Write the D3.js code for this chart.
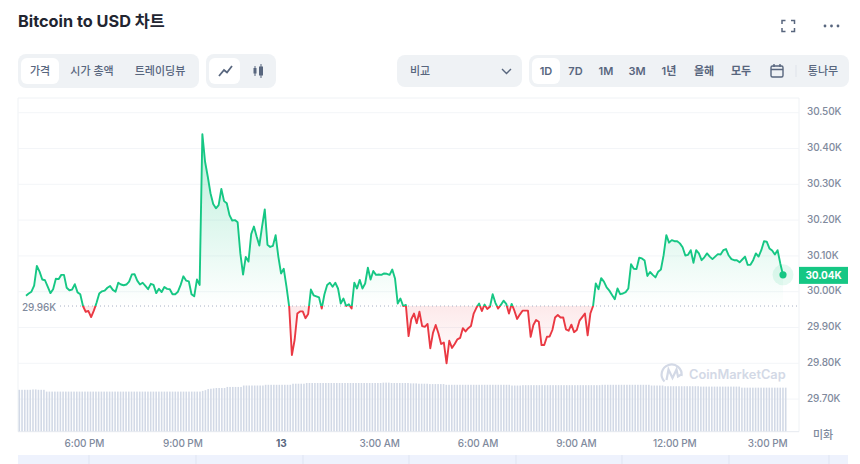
<!DOCTYPE html>
<html><head><meta charset="utf-8">
<script src="https://cdn.jsdelivr.net/npm/d3@7/dist/d3.min.js"></script>
<style>
html,body{margin:0;padding:0;background:#fff;overflow:hidden}
svg{display:block;font-family:Inter,"Noto Sans CJK KR",sans-serif}
</style></head><body><svg id="c" width="860" height="464"></svg>
<script>
const title = "Bitcoin to USD 차트";
const metricTabs = ["가격","시가 총액","트레이딩뷰"];
const rangeTabs = ["1D","7D","1M","3M","1년","올해","모두"];
const yTicks = [29700,29800,29900,30000,30100,30200,30300,30400,30500];
const baselinePrice = 29960;
const lastPrice = 30040;
const xTickTimes = [[12,18],[12,21],[13,0],[13,3],[13,6],[13,9],[13,12],[13,15]];
const prices = [
29989,29995,30000,30017,30072,30056,30034,30032,30014,29996,30007,30036,30035,30047,30047,30011,30004,30006,30021,29998,
29993,29960,29944,29946,29929,29947,29969,29995,30001,30003,30011,30016,30005,30000,30025,30020,30018,30020,30028,30048,
30049,30031,30020,30025,30016,30007,30022,30019,29996,30008,29999,30013,30008,30007,29993,29993,30000,30019,30043,30031,
30029,29993,29987,30034,30019,30440,30363,30321,30275,30245,30233,30242,30287,30253,30247,30214,30199,30200,30194,30107,
30048,30097,30084,30161,30182,30154,30129,30182,30230,30131,30125,30128,30158,30098,30051,30064,30014,29958,29823,
29865,29939,29945,29945,29926,29938,30006,29990,29987,29984,29953,29993,30019,30025,30014,30025,30009,29967,29981,29960,
29965,29953,30025,30009,30033,30009,30023,30067,30034,30058,30047,30048,30047,30051,30050,30047,30062,30037,29967,29981,
29960,29963,29876,29923,29939,29912,29944,29904,29902,29910,29842,29885,29907,29884,29854,29858,29800,29863,29843,29854,
29867,29871,29898,29889,29898,29904,29939,29955,29967,29946,29964,29952,29958,29993,29969,29953,29963,29975,29966,29939,
29966,29947,29924,29936,29947,29947,29947,29874,29907,29921,29916,29851,29851,29874,29875,29893,29928,29935,29928,
29928,29895,29891,29908,29887,29893,29919,29929,29939,29878,29939,29960,30023,30007,30038,30028,30012,30003,29991,29979,
30009,29993,29995,29999,30009,30077,30064,30063,30095,30093,30087,30044,30055,30047,30040,30056,30062,30102,30158,30137,
30144,30141,30141,30135,30124,30101,30103,30116,30081,30116,30107,30088,30096,30107,30098,30091,30098,30105,30104,30116,
30119,30101,30091,30088,30088,30082,30090,30098,30075,30075,30088,30107,30098,30116,30141,30140,30121,30115,30104,30116,
30079,30047];
const volumes = [
11.7,11.7,11.7,11.7,11.7,11.8,11.8,11.7,11.7,11.7,
11.2,11.2,11.2,11.2,11.2,11.2,11.2,11.2,11.2,11.2,11.2,11.2,11.2,11.2,11.2,11.2,11.2,11.2,11.2,11.2,
11.2,11.2,11.2,11.2,11.2,11.2,11.2,11.2,11.2,11.2,11.2,11.2,11.2,11.2,11.2,11.2,11.2,11.2,11.2,11.2,
11.2,11.2,11.2,11.2,11.2,11.2,11.2,11.2,11.2,11.2,11.2,11.2,11.2,11.2,11.2,11.2,11.2,
11.4,11.6,11.9,12.0,12.1,
12.2,12.2,12.2,12.2,
12.5,12.5,12.5,12.5,12.5,12.5,
12.9,12.9,12.9,12.9,12.9,12.9,12.9,12.9,
13.1,13.1,13.1,13.1,13.1,13.1,13.1,13.1,13.1,13.1,
13.4,13.4,13.4,13.4,13.4,
13.6,13.6,13.6,13.6,13.6,13.6,13.6,13.6,13.6,13.6,13.6,13.6,13.6,13.6,13.6,13.6,13.6,13.6,13.6,13.6,
13.6,13.6,13.6,13.6,13.6,13.6,13.6,13.6,13.7,13.7,13.7,13.6,13.6,13.6,13.6,13.6,13.6,13.6,
13.5,13.5,13.5,13.4,13.4,13.4,13.4,
13.3,13.3,13.3,13.3,13.3,13.3,
13.1,13.1,13.1,13.1,13.1,13.1,13.1,13.1,13.1,13.1,13.1,13.1,13.1,13.1,13.1,13.1,13.1,13.1,13.1,13.1,13.1,13.1,13.1,13.1,
12.9,12.9,12.9,12.9,
13.0,13.0,13.0,13.0,13.0,13.0,13.0,13.0,13.0,13.0,13.0,13.0,13.0,13.0,13.0,13.0,13.0,13.0,13.0,13.0,13.0,13.0,13.0,13.0,13.0,13.0,13.0,13.0,13.0,
13.1,13.1,13.1,13.1,13.1,13.1,13.1,13.1,13.1,13.1,13.1,13.1,13.1,13.1,13.1,13.1,13.1,13.1,
12.9,12.9,12.9,12.9,12.9,
12.7,12.7,12.7,12.7,12.7,12.7,12.7,12.7,12.7,12.7,12.7,12.7,12.7,
12.6,12.6,12.6,12.6,12.6,12.6,12.6,12.6,12.6,12.6,12.6,12.6,12.6,12.6,12.6,
12.3,12.3,12.3,12.3,12.3,12.3,12.3,12.3,12.3,12.3,12.3,12.3,12.3,12.3,12.3,12.3,12.3];

const GREEN="#16c784", RED="#ea3943", GREY="#808a9d", TXT="#58667e", PANEL="#eff2f5", GRID="#f3f5f8";
const svg = d3.select("#c");
const defs = svg.append("defs");

const start = new Date(2023,6,12,16,14), end = new Date(2023,6,13,15,19);
const x = d3.scaleTime().domain([start,end]).range([26,783]);
const y = d3.scaleLinear().domain([29700,30500]).range([399.1,112.7]);
const times = prices.map((_,i)=>new Date(+start + i*(end-start)/(prices.length-1)));
const vx = d3.scaleBand().domain(volumes.map((_,i)=>i)).range([18.5,786.5]).paddingInner(0.42);
const vy = d3.scaleLinear().domain([0,13.6]).range([431.7,383]);

/* header */
svg.append("text").attr("x",18).attr("y",27).attr("font-size",16.3).attr("font-weight",700).attr("fill","#222531").text(title);
const hdr = svg.append("g").attr("fill","none").attr("stroke","#58667e").attr("stroke-width",1.5);
hdr.append("path").attr("d","M782 24V20.5H785.5M791 20.5H794.5V24M794.5 28V31.5H791M785.5 31.5H782V28");
[825,831.5,838].forEach(cx=>svg.append("circle").attr("cx",cx).attr("cy",26).attr("r",1.4).attr("fill","#58667e"));

function panel(x0,x1,y0,y1,fill,r){svg.append("rect").attr("x",x0).attr("y",y0).attr("width",x1-x0).attr("height",y1-y0).attr("rx",r).attr("fill",fill);}
function label(t,cx,opts={}){svg.append("text").attr("x",cx).attr("y",opts.y||75).attr("text-anchor",opts.anchor||"middle").attr("font-size",opts.size||11).attr("font-weight",opts.weight||500).attr("fill",opts.fill||TXT).text(t);}

panel(18,199,54,88,PANEL,8); panel(21,59,58,84,"#fff",6);
[40,92,160].forEach((cx,i)=>label(metricTabs[i],cx));
panel(206,276,54,88,PANEL,8); panel(209,240,58,84,"#fff",6);
svg.append("path").attr("d","M219 76L224 70L227 72.5L232 66").attr("fill","none").attr("stroke",TXT).attr("stroke-width",1.8);
svg.append("path").attr("d","M255 66V76M261 64V78").attr("stroke",TXT).attr("stroke-width",1);
svg.append("rect").attr("x",253.5).attr("y",68).attr("width",3).attr("height",5.5).attr("fill",TXT);
svg.append("rect").attr("x",259).attr("y",66.5).attr("width",4).attr("height",9).attr("fill",TXT);
panel(397,522,55,87,PANEL,8);
label("비교",410,{anchor:"start"});
svg.append("path").attr("d","M502 69L506.5 73.5L511 69").attr("fill","none").attr("stroke",TXT).attr("stroke-width",1.4);
panel(529,849,55,87,PANEL,8); panel(532,560,58,84,"#fff",6);
[546,575.5,606,637,669,704,741].forEach((cx,i)=>label(rangeTabs[i],cx,{weight:600}));
svg.append("rect").attr("x",771).attr("y",66).attr("width",12).attr("height",11).attr("rx",1.5).attr("fill","none").attr("stroke",TXT).attr("stroke-width",1.4);
svg.append("path").attr("d","M771 69.5H783M774 64V67M780 64V67").attr("stroke",TXT).attr("stroke-width",1.4);
svg.append("line").attr("x1",796).attr("x2",796).attr("y1",65).attr("y2",77).attr("stroke","#dfe3ea");
label("통나무",823);

/* frame and grid */
const plot = svg.append("g");
plot.append("path").attr("d","M18 431.7V98H799V431.7").attr("fill","none").attr("stroke","#eff2f5");
plot.append("g").selectAll("line").data(yTicks).join("line")
  .attr("x1",18).attr("x2",799).attr("y1",d=>y(d)).attr("y2",d=>y(d)).attr("stroke",GRID);

/* volume */
plot.append("g").selectAll("rect").data(volumes).join("rect")
  .attr("x",(d,i)=>vx(i)).attr("width",vx.bandwidth()).attr("y",d=>vy(d)).attr("height",d=>vy(0)-vy(d)).attr("fill","#d2d9e6");
plot.append("line").attr("x1",18).attr("x2",799).attr("y1",431.7).attr("y2",431.7).attr("stroke","#e6e9ef");

/* price */
const base = y(baselinePrice);
const gg = defs.append("linearGradient").attr("id","gu").attr("gradientUnits","userSpaceOnUse").attr("x1",0).attr("x2",0).attr("y1",y(30440)).attr("y2",base);
gg.append("stop").attr("offset",0).attr("stop-color",GREEN).attr("stop-opacity",0.3);
gg.append("stop").attr("offset",1).attr("stop-color",GREEN).attr("stop-opacity",0.0);
const gr = defs.append("linearGradient").attr("id","gd").attr("gradientUnits","userSpaceOnUse").attr("x1",0).attr("x2",0).attr("y1",base).attr("y2",y(29800));
gr.append("stop").attr("offset",0).attr("stop-color",RED).attr("stop-opacity",0.11);
gr.append("stop").attr("offset",1).attr("stop-color",RED).attr("stop-opacity",0);
defs.append("clipPath").attr("id","up").append("rect").attr("x",0).attr("y",0).attr("width",860).attr("height",base);
defs.append("clipPath").attr("id","dn").append("rect").attr("x",0).attr("y",base).attr("width",860).attr("height",464-base);
const line = d3.line().x((d,i)=>x(times[i])).y(d=>y(d));
const area = d3.area().x((d,i)=>x(times[i])).y0(base).y1(d=>y(d));
plot.append("path").datum(prices).attr("d",area).attr("fill","url(#gu)").attr("clip-path","url(#up)");
plot.append("path").datum(prices).attr("d",area).attr("fill","url(#gd)").attr("clip-path","url(#dn)");
plot.append("line").attr("x1",60).attr("x2",797).attr("y1",base).attr("y2",base).attr("stroke","#a6b0c3").attr("stroke-dasharray","1 3");
plot.append("path").datum(prices).attr("d",line).attr("fill","none").attr("stroke",GREEN).attr("stroke-width",1.9).attr("stroke-linejoin","round").attr("clip-path","url(#up)");
plot.append("path").datum(prices).attr("d",line).attr("fill","none").attr("stroke",RED).attr("stroke-width",1.9).attr("stroke-linejoin","round").attr("clip-path","url(#dn)");
const lastX=x(times[times.length-1]), lastY=y(prices[prices.length-1]);
plot.append("circle").attr("cx",lastX).attr("cy",lastY).attr("r",10.5).attr("fill",GREEN).attr("opacity",0.11);
plot.append("circle").attr("cx",lastX).attr("cy",lastY).attr("r",3.6).attr("fill",GREEN);
svg.append("text").attr("x",22).attr("y",311).attr("font-size",10).attr("letter-spacing",-0.1).attr("font-weight",500).attr("fill",GREY).text(d3.format(".2f")(baselinePrice/1000)+"K");

/* watermark */
const wm = svg.append("g").attr("fill","none").attr("stroke","#d3d9e6").attr("stroke-width",2.2);
wm.append("path").attr("d","M664.5 381.5A10 10 0 1 1 681.5 376");
wm.append("path").attr("d","M666.5 380L668.5 369.5L672.5 378L676.5 369.5L678 376.5L682 374");
svg.append("text").attr("x",689).attr("y",378.5).attr("font-size",12.8).attr("font-weight",600).attr("fill","#d3d9e6").text("CoinMarketCap");

/* axes */
const yAxis = d3.axisRight(y).tickValues(yTicks).tickSize(0).tickPadding(8).tickFormat(d=>d3.format(".2f")(d/1000)+"K");
const gy = svg.append("g").attr("transform","translate(799,0)").call(yAxis);
gy.select(".domain").remove();
gy.selectAll("text").attr("fill",GREY).attr("font-size",10).attr("letter-spacing",-0.1).attr("font-weight",500).attr("font-family",'Inter,"Noto Sans CJK KR",sans-serif').attr("dy","0.22em");
const xt = xTickTimes.map(([d,h])=>new Date(2023,6,d,h));
const xAxis = d3.axisBottom(x).tickValues(xt).tickSize(0).tickPadding(8)
  .tickFormat(d=>d.getHours()===0?String(d.getDate()):d3.timeFormat("%-I:%M %p")(d));
const gx = svg.append("g").attr("transform","translate(0,431.7)").call(xAxis);
gx.select(".domain").remove();
gx.selectAll("text").attr("fill",GREY).attr("font-size",10).attr("letter-spacing",-0.1).attr("font-weight",500).attr("font-family",'Inter,"Noto Sans CJK KR",sans-serif')
  .filter(d=>d.getHours()===0).attr("font-weight",700).attr("fill",TXT);
gx.selectAll("text").filter((d,i)=>i===xt.length-1).attr("dx",-5.5);
svg.append("text").attr("x",813).attr("y",439).attr("font-size",11).attr("fill",GREY).attr("font-weight",500).text("미화");

/* last price tag */
svg.append("rect").attr("x",799).attr("y",lastY-8).attr("width",49).attr("height",17).attr("fill",GREEN);
svg.append("text").attr("x",823.5).attr("y",lastY+4.2).attr("text-anchor","middle").attr("font-size",10).attr("letter-spacing",-0.1).attr("font-weight",700).attr("fill","#fff").text(d3.format(".2f")(lastPrice/1000)+"K");

/* navigator strip */
svg.append("rect").attr("x",18).attr("y",455).attr("width",830).attr("height",9).attr("fill","#eef2fd");
svg.append("g").selectAll("line").data([89,196,303,409,516,622,729,829]).join("line")
  .attr("x1",d=>d).attr("x2",d=>d).attr("y1",455).attr("y2",464).attr("stroke","#dfe5f2");
</script></body></html>
